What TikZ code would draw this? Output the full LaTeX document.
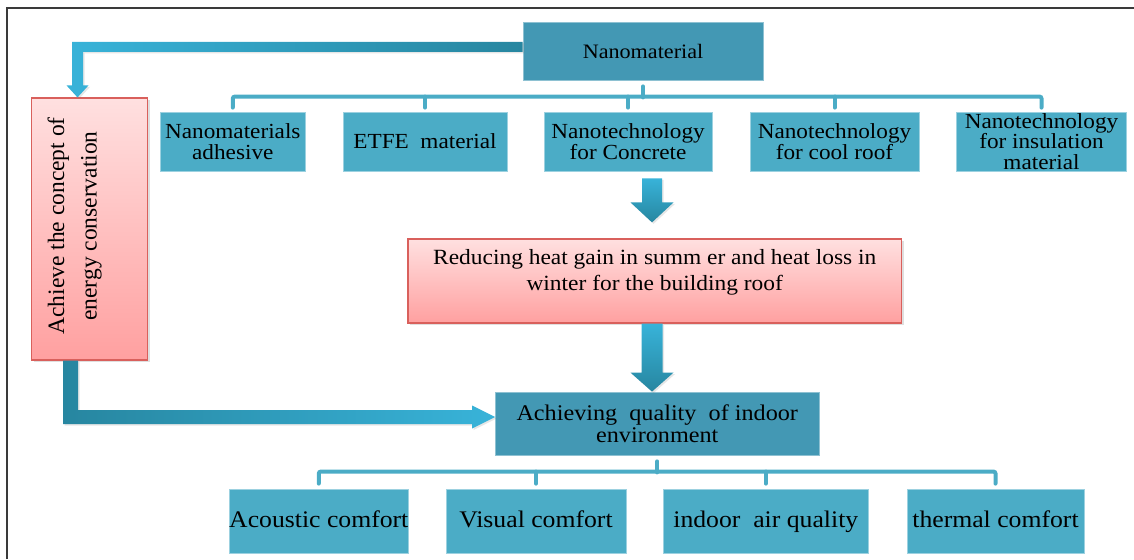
\documentclass[tikz,border=0pt]{standalone}
\usepackage{fontspec}
\setmainfont{Liberation Serif}
\newfontfamily\rotfont{Liberation Serif}
\newfontfamily\boxfont{Liberation Serif}[FakeStretch=1.08]
\usetikzlibrary{calc,shadows}
\definecolor{boxcol}{HTML}{4BACC6}
\definecolor{darkboxcol}{HTML}{4398B4}
\definecolor{redtop}{HTML}{FFE0E0}
\definecolor{redbot}{HTML}{FFA0A0}
\definecolor{redline}{HTML}{D9605C}
\definecolor{arrlight}{HTML}{38B3D9}
\definecolor{arrdark}{HTML}{2786A0}
\definecolor{framecol}{HTML}{3A3A3A}
\begin{document}
\begin{tikzpicture}[x=1pt,y=-1pt,
  lightbox/.style={draw=boxcol!55!white, line width=0.8pt, fill=boxcol, inner sep=0pt, align=center, text=black},
  darkbox/.style={draw=darkboxcol!60!white, line width=0.8pt, fill=darkboxcol, inner sep=0pt, align=center, text=black},
  redbox/.style={draw=redline, line width=1.2pt, top color=redtop, bottom color=redbot, inner sep=0pt,
    drop shadow={shadow xshift=2pt, shadow yshift=-2pt, opacity=0.25}},
  bracket/.style={draw=boxcol, line width=4pt, line cap=round, rounded corners=2pt},
  vshade/.style={top color=arrlight, bottom color=arrdark, drop shadow={shadow xshift=1.5pt, shadow yshift=-1.5pt, opacity=0.2}},
  hshadeL/.style={left color=arrlight, right color=arrdark, drop shadow={shadow xshift=1.5pt, shadow yshift=-1.5pt, opacity=0.2}},
  hshadeR/.style={left color=arrdark, right color=arrlight, drop shadow={shadow xshift=1.5pt, shadow yshift=-1.5pt, opacity=0.2}},
  toptxt/.style={font=\boxfont\fontsize{21.5}{21.5}\selectfont},
  bottxt/.style={font=\boxfont\fontsize{23.8}{24}\selectfont, text height=16pt, text depth=4pt},
]
\useasboundingbox (0,0) rectangle (1134,559);
\draw[framecol, line width=2pt] (7,559) -- (7,8) -- (1134,8);

% top node
\node[darkbox, minimum width=240pt, minimum height=58pt, font=\boxfont\fontsize{20.5}{21}\selectfont] (nano) at (643,51) {Nanomaterial};

% top row
\node[lightbox, toptxt, minimum width=145.6pt, minimum height=59pt] (b1) at (232.8,141.5) {Nanomaterials\\adhesive};
\node[lightbox, toptxt, minimum width=164pt, minimum height=59pt] (b2) at (425,141.5) {ETFE\ \ material};
\node[lightbox, toptxt, minimum width=168pt, minimum height=59pt] (b3) at (628,141.5) {Nanotechnology\\for Concrete};
\node[lightbox, toptxt, minimum width=169pt, minimum height=59pt] (b4) at (834.5,141.5) {Nanotechnology\\for cool roof};
\node[lightbox, toptxt, minimum width=170pt, minimum height=59pt, font=\boxfont\fontsize{21.5}{20.5}\selectfont] (b5) at (1041.5,141.5) {Nanotechnology\\for insulation\\material};

% red boxes
\node[redbox, minimum width=116pt, minimum height=262pt] (red1) at (89.5,229) {};
\node[rotate=90, align=center, inner sep=0pt, font=\rotfont\fontsize{23.5}{32.5}\selectfont] (red1t) at ($(red1)+(-14.75,-3)$) {Achieve the concept of\\energy conservation};
\node[redbox, minimum width=493.5pt, minimum height=84pt] (red2) at (654.75,281) {};
\node[align=center, inner sep=0pt, font=\boxfont\fontsize{21.7}{26}\selectfont] (red2t) at ($(red2)+(0,-9)$) {Reducing heat gain in summ er and heat loss in\\winter for the building roof};

% achieving
\node[darkbox, minimum width=323.5pt, minimum height=63pt, font=\boxfont\fontsize{22.4}{22}\selectfont] (ach) at (657.25,423.5) {Achieving\ \ quality\ \ of indoor\\environment};

% bottom row
\node[lightbox, bottxt, minimum width=177.6pt, minimum height=64pt] (c1) at (318.8,521) {Acoustic comfort};
\node[lightbox, bottxt, minimum width=180pt, minimum height=64pt] (c2) at (536,521) {Visual comfort};
\node[lightbox, bottxt, minimum width=204.4pt, minimum height=64pt] (c3) at (765.8,521) {indoor\ \ air quality};
\node[lightbox, bottxt, minimum width=177pt, minimum height=64pt] (c4) at (995.5,521) {thermal comfort};

% top bracket
\draw[bracket] ($(b1.north)+(0,-4)$) -- ++(0,-11) -| ($(b5.north)+(0,-4)$);
\draw[bracket] ($(b2.north)+(0,-4)$) -- ++(0,-11);
\draw[bracket] ($(b3.north)+(0,-4)$) -- ++(0,-11);
\draw[bracket] ($(b4.north)+(0,-4)$) -- ++(0,-11);
\draw[bracket] ($(nano.south)+(0,6)$) -- ++(0,11);

% bottom bracket
\draw[bracket] ($(c1.north)+(0,-5)$) -- ++(0,-12) -| ($(c4.north)+(0,-5)$);
\draw[bracket] ($(c2.north)+(0,-5)$) -- ++(0,-12);
\draw[bracket] ($(c3.north)+(0,-5)$) -- ++(0,-12);
\draw[bracket] ($(ach.south)+(0,6)$) -- ++(0,11);

% elbow arrow: Nanomaterial -> red1
\shade[hshadeL] let \p1=($(nano.west)+(0,-4)$), \p2=($(red1.north)+(-12,0)$) in
  (\x1,\y1+5pt) -- (\x2-5.5pt,\y1+5pt) -- (\x2-5.5pt,\y2+12pt) -- (\x2-11pt,\y2+12pt) -- (\x2,\y2)
  -- (\x2+11pt,\y2+12pt) -- (\x2+5.5pt,\y2+12pt) -- (\x2+5.5pt,\y1-5pt) -- (\x1,\y1-5pt) -- cycle;

% elbow arrow: red1 -> ach
\shade[hshadeR] let \p1=($(red1.south)+(-19,0)$), \p2=($(ach.west)+(0,-6.5)$) in
  (\x1-7.5pt,\y1) -- (\x1-7.5pt,\y2-7pt) -- (\x2-23pt,\y2-7pt) -- (\x2-23pt,\y2-11.5pt) -- (\x2,\y2)
  -- (\x2-23pt,\y2+11.5pt) -- (\x2-23pt,\y2+7pt) -- (\x1+7.5pt,\y2+7pt) -- (\x1+7.5pt,\y1) -- cycle;

% down arrow: concrete -> red2
\shade[vshade] let \p1=($(b3.south)+(24,7)$), \p2=($(red2.north)+(-2.75,-16)$) in
  (\x1-10pt,\y1) -- (\x1+10pt,\y1) -- (\x1+10pt,\y2+20pt) -- (\x1+21.5pt,\y2+20pt) -- (\x1,\y2)
  -- (\x1-21.5pt,\y2+20pt) -- (\x1-10pt,\y2+20pt) -- cycle;

% down arrow: red2 -> ach
\shade[vshade] let \p1=($(red2.south)+(-2.75,0)$), \p2=($(ach.north)+(-5.25,0)$) in
  (\x1-10.5pt,\y1) -- (\x1+10.5pt,\y1) -- (\x1+10.5pt,\y2+19pt) -- (\x1+21.5pt,\y2+19pt) -- (\x1,\y2)
  -- (\x1-21.5pt,\y2+19pt) -- (\x1-10.5pt,\y2+19pt) -- cycle;
\end{tikzpicture}
\end{document}
